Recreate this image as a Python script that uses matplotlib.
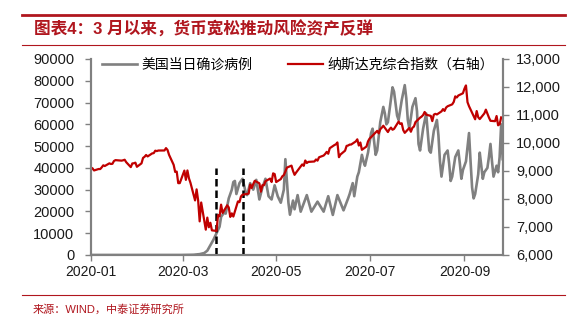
import matplotlib
matplotlib.use('Agg')
import matplotlib.pyplot as plt
import matplotlib.dates as mdates
from matplotlib.lines import Line2D
from matplotlib.ticker import MultipleLocator, FuncFormatter
import pandas as pd

plt.rcParams['font.family'] = ['Liberation Sans', 'Noto Sans CJK SC']
plt.rcParams['axes.unicode_minus'] = False

# 纳斯达克综合指数, 交易日收盘
nasdaq = [
    # 1月
    9092, 9020, 9071, 9068, 9129, 9203, 9178, 9273, 9251, 9258, 9357, 9388, 9370, 9383, 9402, 9315, 9139,
    9270, 9276, 9298, 9150,
    # 2月
    9273, 9467, 9508, 9572, 9520, 9629, 9639, 9726, 9711, 9731, 9733, 9817, 9751, 9577, 9221, 8966, 8980,
    8566, 8567,
    # 3月
    9015, 8684, 9019, 8738, 8576, 7950, 8344, 7953, 7201, 7875, 6905, 7335, 6990, 7151, 6880, 6861, 7418,
    7384, 7798, 7502, 7774, 7700,
    # 4月
    7360, 7487, 7373, 7913, 7887, 8091, 8153, 8192, 8516, 8394, 8533, 8650, 8561, 8263, 8495, 8495, 8634,
    8730, 8607, 8915, 8890,
    # 5月
    8605, 8711, 8810, 8854, 8980, 9121, 9192, 9002, 8863, 8943, 9015, 9235, 9185, 9375, 9285, 9325, 9340,
    9412, 9369, 9490,
    # 6月
    9552, 9609, 9683, 9616, 9814, 9925, 9953, 10020, 9493, 9589, 9726, 9896, 9911, 9943, 9946, 10056,
    10131, 9909, 10017, 9757, 9874, 10059,
    # 7月
    10155, 10208, 10434, 10344, 10492, 10548, 10617, 10391, 10489, 10550, 10474, 10503, 10767, 10680,
    10706, 10462, 10363, 10536, 10402, 10543, 10587, 10745,
    # 8月
    10903, 10942, 10998, 11108, 11011, 10968, 10782, 11012, 11042, 11019, 11129, 11210, 11146, 11265,
    11312, 11380, 11466, 11665, 11625, 11696, 11775,
    # 9月
    11939, 12056, 11458, 11313, 10847, 11142, 10920, 10854, 11056, 11191, 11050, 10910, 10793, 10779,
    10964, 10633, 10672, 10914,
]
us_holidays = ['2020-01-20', '2020-02-17', '2020-04-10', '2020-05-25', '2020-07-03', '2020-09-07']
nasdaq_dates = pd.bdate_range('2020-01-02', '2020-09-25', freq='C', holidays=us_holidays)

# 美国当日确诊病例
case_dates = [
    '2020-01-01', '2020-02-29', '2020-03-08', '2020-03-12', '2020-03-15', '2020-03-17', '2020-03-19',
    '2020-03-21', '2020-03-23', '2020-03-25', '2020-03-26', '2020-03-28', '2020-03-29', '2020-03-31',
    '2020-04-02', '2020-04-03', '2020-04-04', '2020-04-05', '2020-04-07', '2020-04-09', '2020-04-11',
    '2020-04-12', '2020-04-14', '2020-04-16', '2020-04-18', '2020-04-20', '2020-04-22', '2020-04-24',
    '2020-04-26', '2020-04-28', '2020-04-30', '2020-05-02', '2020-05-04', '2020-05-06', '2020-05-07',
    '2020-05-09', '2020-05-10', '2020-05-12', '2020-05-13', '2020-05-15', '2020-05-17', '2020-05-21',
    '2020-05-24', '2020-05-28', '2020-06-01', '2020-06-04', '2020-06-07', '2020-06-10', '2020-06-14',
    '2020-06-17', '2020-06-18', '2020-06-20', '2020-06-21', '2020-06-23', '2020-06-24', '2020-06-26',
    '2020-06-27', '2020-06-28', '2020-06-30', '2020-07-02', '2020-07-03', '2020-07-05', '2020-07-06',
    '2020-07-08', '2020-07-10', '2020-07-11', '2020-07-12', '2020-07-13', '2020-07-16', '2020-07-17',
    '2020-07-19', '2020-07-20', '2020-07-22', '2020-07-24', '2020-07-25', '2020-07-26', '2020-07-27',
    '2020-07-29', '2020-07-31', '2020-08-01', '2020-08-02', '2020-08-03', '2020-08-05', '2020-08-07',
    '2020-08-09', '2020-08-10', '2020-08-12', '2020-08-14', '2020-08-15', '2020-08-16', '2020-08-17',
    '2020-08-19', '2020-08-21', '2020-08-22', '2020-08-23', '2020-08-24', '2020-08-26', '2020-08-28',
    '2020-08-29', '2020-08-30', '2020-08-31', '2020-09-02', '2020-09-04', '2020-09-05', '2020-09-06',
    '2020-09-07', '2020-09-08', '2020-09-10', '2020-09-11', '2020-09-12', '2020-09-13', '2020-09-14',
    '2020-09-16', '2020-09-17', '2020-09-18', '2020-09-19', '2020-09-20', '2020-09-22', '2020-09-23',
    '2020-09-24', '2020-09-25', '2020-09-26',
]
case_vals = [
    0, 0, 100, 400, 900, 2000, 4500,
    7000, 10000, 13000, 17500, 19500, 19000, 26000,
    30000, 33500, 34000, 28000, 33000, 35000, 29000,
    27500, 33000, 30000, 34500, 25500, 31000, 35000,
    27000, 25500, 32000, 27000, 24000, 30000, 44000,
    24000, 18500, 25000, 21000, 27500, 19900, 27500,
    19900, 24500, 19900, 27000, 18400, 27500, 20500,
    26000, 28000, 33000, 27000, 36000, 38000, 46000,
    43000, 41000, 47000, 56000, 58000, 46000, 48000,
    61000, 68000, 65000, 60000, 61000, 77000, 75000,
    64000, 62000, 71000, 78000, 72000, 62000, 58000,
    68000, 72000, 66000, 51000, 48000, 58000, 65000,
    48000, 47000, 57000, 62000, 55000, 43000, 36000,
    46000, 48000, 42000, 34000, 36000, 45000, 48000,
    42000, 35000, 39000, 43000, 56000, 43000, 31000,
    26000, 28000, 37000, 47000, 41000, 35000, 38000,
    40000, 45000, 51000, 43000, 36000, 41000, 38000,
    45000, 60000, 44000,
]
case_dates = pd.to_datetime(case_dates)

# 政策时点
policy_dates = pd.to_datetime(['2020-03-23', '2020-04-09'])

title_red = '#B0161E'
gray = '#808080'

fig = plt.figure(figsize=(5.8, 3.23), dpi=100)
ax = fig.add_axes([91 / 580, 1 - 255 / 323, 411.7 / 580, 196 / 323])
ax2 = ax.twinx()

l1, = ax.plot(case_dates, case_vals, color=gray, lw=1.9, label='美国当日确诊病例')
ax.vlines(policy_dates, 0, 40000, colors='black', linestyles=(0, (3, 1.6)), lw=1.8, zorder=3)
l2, = ax2.plot(nasdaq_dates, nasdaq, color='#C00000', lw=1.6, label='纳斯达克综合指数（右轴）')

ax.set_ylim(0, 90000)
ax.yaxis.set_major_locator(MultipleLocator(10000))
ax2.set_ylim(6000, 13000)
ax2.yaxis.set_major_locator(MultipleLocator(1000))
ax2.yaxis.set_major_formatter(FuncFormatter(lambda v, p: f'{int(v):,}'))

ax.set_xlim(pd.Timestamp('2020-01-01'), pd.Timestamp('2020-09-26'))
ax.xaxis.set_major_locator(mdates.MonthLocator(bymonth=[1, 3, 5, 7, 9]))
ax.xaxis.set_major_formatter(mdates.DateFormatter('%Y-%m'))

for a in (ax, ax2):
    for s in a.spines.values():
        s.set_color(gray)
        s.set_linewidth(1.5)
    a.spines['top'].set_visible(False)
    a.tick_params(colors=gray, labelcolor='#1a1a1a', labelsize=10.5, length=4, width=1)
ax.tick_params(axis='y', pad=8)
ax2.tick_params(axis='y', pad=5.5)
ax.tick_params(axis='x', labelsize=10, pad=3)

ax2.legend([l1, l2], [l1.get_label(), l2.get_label()], loc='upper left', bbox_to_anchor=(0.027, 1.005),
           ncol=2, frameon=False, fontsize=10, handlelength=2.5, handletextpad=0.3,
           columnspacing=2.6, borderaxespad=0, borderpad=0)

# 标题与来源
fig.add_artist(Line2D([22 / 580, 565 / 580], [1 - 14.5 / 323] * 2, color=title_red, lw=2))
fig.add_artist(Line2D([22 / 580, 565 / 580], [1 - 44.5 / 323] * 2, color=title_red, lw=0.8))
fig.add_artist(Line2D([22 / 580, 565 / 580], [1 - 294.5 / 323] * 2, color=title_red, lw=0.8))
fig.text(34 / 580, 1 - 29.5 / 323, '图表4：3 月以来，货币宽松推动风险资产反弹', color=title_red,
         fontsize=12, fontweight='bold', va='center', ha='left')
fig.text(33 / 580, 1 - 309.5 / 323, '来源：WIND，中泰证券研究所', color=title_red,
         fontsize=8, va='center', ha='left')

fig.savefig('out.png', dpi=100)
